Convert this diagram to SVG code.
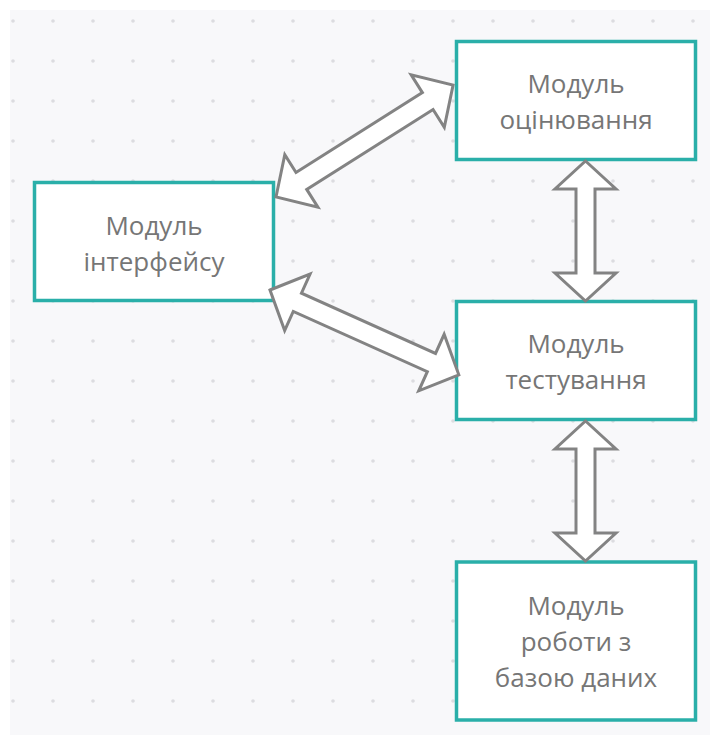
<svg xmlns="http://www.w3.org/2000/svg" width="710" height="735" viewBox="0 0 710 735">
  <style>
    .box { fill: #ffffff; stroke: #2aafa9; stroke-width: 3.5; }
    .lbl { font-family: "Open Sans", "Noto Sans", "Liberation Sans", sans-serif; font-size: 26px; fill: #767676; text-anchor: middle; }
    .arr { fill: #ffffff; stroke: #838383; stroke-width: 3; stroke-linejoin: miter; }
  </style>
  <defs>
    <pattern id="dots" patternUnits="userSpaceOnUse" x="-7" y="1" width="40" height="40">
      <circle cx="20" cy="20" r="1.8" fill="#dcdce0"/>
    </pattern>
  </defs>
  <rect x="0" y="0" width="710" height="735" fill="#ffffff"/>
  <rect x="10" y="10" width="700" height="725" fill="#f8f8fa"/>
  <rect x="10" y="10" width="700" height="725" fill="url(#dots)"/>

  <g id="node-interface">
    <rect class="box" x="34.5" y="182.5" width="239" height="118"/>
    <text class="lbl" x="154" y="235">Модуль</text>
    <text class="lbl" x="154" y="271">інтерфейсу</text>
  </g>
  <g id="node-evaluation">
    <rect class="box" x="456.5" y="41.5" width="239" height="118"/>
    <text class="lbl" x="576" y="93">Модуль</text>
    <text class="lbl" x="576" y="129">оцінювання</text>
  </g>
  <g id="node-testing">
    <rect class="box" x="456.5" y="301.5" width="239" height="118"/>
    <text class="lbl" x="576" y="353">Модуль</text>
    <text class="lbl" x="576" y="389">тестування</text>
  </g>
  <g id="node-database">
    <rect class="box" x="456.5" y="562" width="239" height="158"/>
    <text class="lbl" x="576" y="615">Модуль</text>
    <text class="lbl" x="576" y="651">роботи з</text>
    <text class="lbl" x="576" y="687">базою даних</text>
  </g>

  <g id="connectors">
    <polygon class="arr" transform="translate(276,197) rotate(-32.3)" points="0,0 30,-31 30,-10 179.5,-10 179.5,-31 209.5,0 179.5,31 179.5,10 30,10 30,31"/>
    <polygon class="arr" transform="translate(270,290) rotate(24.2)" points="0,0 30,-31 30,-10 177,-10 177,-31 207,0 177,31 177,10 30,10 30,31"/>
    <polygon class="arr" points="585.5,161 616,189 595,189 595,273 616,273 585.5,301 555,273 576,273 576,189 555,189"/>
    <polygon class="arr" points="585.5,421 616,449 595,449 595,533 616,533 585.5,561 555,533 576,533 576,449 555,449"/>
  </g>
</svg>
